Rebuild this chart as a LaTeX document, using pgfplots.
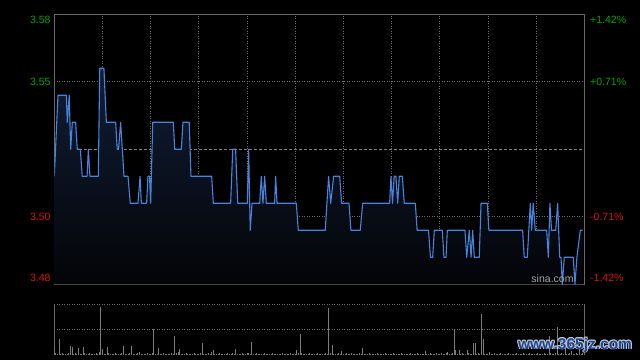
\documentclass[border=0pt]{standalone}
\usepackage{fontspec}
\setmainfont{Liberation Sans}
\usepackage{pgfplots}
\pgfplotsset{compat=1.18}
\usepackage{pgfplotstable}

\definecolor{gridc}{RGB}{115,115,115}
\definecolor{framec}{RGB}{105,105,105}
\definecolor{linec}{RGB}{72,132,222}
\definecolor{upc}{RGB}{0,165,0}
\definecolor{dnc}{RGB}{215,20,20}
\definecolor{volc}{RGB}{125,125,125}
\definecolor{wmblue}{RGB}{28,70,145}
\definecolor{wmedge}{RGB}{195,200,210}
\definecolor{filltop}{RGB}{17,30,54}
\definecolor{fillbot}{RGB}{3,4,7}
\definecolor{sinac}{RGB}{165,165,165}

\pgfplotstableread{
t p
0 3.52
2.3 3.55
7.5 3.55
8.1 3.54
9.3 3.55
10.2 3.53
11.2 3.54
13.3 3.54
14.3 3.53
16.2 3.53
17.4 3.52
20.4 3.52
21.2 3.53
22.2 3.52
27.4 3.52
28.3 3.56
30.9 3.56
32.4 3.54
38.2 3.54
39.2 3.53
40 3.53
41.3 3.54
43.4 3.52
45.9 3.52
47.3 3.51
52.1 3.51
53.4 3.52
54.2 3.51
57.5 3.51
58.3 3.52
59.3 3.52
60 3.51
61.3 3.54
74.1 3.54
75 3.53
79.1 3.53
80.1 3.54
84 3.54
85.1 3.52
98 3.52
99 3.51
109.8 3.51
111.1 3.53
112.9 3.53
114.2 3.51
120.2 3.51
121 3.53
122 3.50
123.1 3.51
127.9 3.51
128.9 3.52
129.9 3.51
131 3.52
132 3.51
137.2 3.51
137.8 3.52
138.7 3.51
150.7 3.51
151.9 3.50
168.7 3.50
170.8 3.52
172.1 3.51
173.9 3.52
177.7 3.52
178.9 3.51
183.5 3.51
184.7 3.50
190.5 3.50
192 3.51
208.8 3.51
209.6 3.52
210.6 3.51
211.6 3.52
212.7 3.52
213.8 3.51
214.8 3.52
216.7 3.52
217.9 3.51
224.8 3.51
225.9 3.50
233 3.50
234.2 3.49
235.6 3.49
236.6 3.50
241.6 3.50
242.6 3.49
243.9 3.49
244.7 3.50
255.7 3.50
256.8 3.49
258.4 3.50
259.5 3.49
260.5 3.50
261.5 3.49
264.6 3.49
265.7 3.51
269.6 3.51
270.6 3.50
291.6 3.50
292.6 3.49
294.5 3.49
296.4 3.51
297.2 3.50
298.2 3.51
299.5 3.50
306.6 3.50
307.6 3.49
308.6 3.51
309.6 3.50
312.2 3.50
313.4 3.51
314.7 3.49
315.5 3.49
316.3 3.48
317.5 3.49
323.1 3.49
324.2 3.48
325.4 3.49
327.5 3.50
329 3.50
}\price

\pgfplotstableread{
t v
0 16
3 32
10 18
11 16
15 14
18 16
28 6
29 95
30 11
33 16
43 18
48 18
53 6
62 51
65 14
75 37
77 6
78 11
92 24
98 6
99 10
113 11
121 4
123 26
151 10
153 41
154 4
171 92
173 20
179 8
192 14
231 8
245 6
249 49
250 10
252 10
257 10
261 24
262 24
266 81
267 32
271 6
308 38
313 56
}\vol

\begin{document}
\begin{tikzpicture}
\fill[black] (0,0) rectangle (640pt,360pt);
\begin{axis}[
  at={(54.3pt,75.7pt)}, anchor=south west,
  scale only axis, width=530pt, height=270pt,
  xmin=0, xmax=330, ymin=3.48, ymax=3.58,
  xtick={30,60,...,300}, ytick={3.505,3.555},
  xticklabels={}, yticklabels={},
  major tick length=0pt,
  grid=major,
  major grid style={gridc, line width=0.8pt, dash pattern=on 1pt off 1.5pt},
  extra y ticks={3.53}, extra y tick labels={},
  extra y tick style={grid=major, major grid style={gridc!90!white, line width=0.8pt, dash pattern=on 3pt off 2pt}},
  axis line style={framec, line width=1pt},
  clip mode=individual,
  font=\fontsize{10.5}{12}\selectfont,
]
\addplot[draw=none, top color=filltop, bottom color=fillbot] table[x=t,y=p]{\price} -- (axis cs:329,3.48) -- (axis cs:0,3.48) -- cycle;
\addplot[linec, line width=1.1pt, line join=round] table[x=t,y=p]{\price};
\node[anchor=east, xshift=-0.3pt, text=upc] at (axis cs:0,3.5779) {3.58};
\node[anchor=east, xshift=-0.3pt, text=upc] at (axis cs:0,3.555) {3.55};
\node[anchor=east, xshift=-0.3pt, text=dnc] at (axis cs:0,3.505) {3.50};
\node[anchor=east, xshift=-0.3pt, text=dnc] at (axis cs:0,3.4822) {3.48};
\node[anchor=west, xshift=2.4pt, text=upc] at (axis cs:330,3.5779) {+1.42\%};
\node[anchor=west, xshift=2.4pt, text=upc] at (axis cs:330,3.555) {+0.71\%};
\node[anchor=west, xshift=2.4pt, text=dnc] at (axis cs:330,3.505) {-0.71\%};
\node[anchor=west, xshift=2.4pt, text=dnc] at (axis cs:330,3.4822) {-1.42\%};
\node[text=sinac] at (axis cs:310.2,3.4819) {sina.com};
\end{axis}
\begin{axis}[
  at={(54.3pt,5pt)}, anchor=south west,
  scale only axis, width=530pt, height=50.7pt,
  xmin=0, xmax=330, ymin=0, ymax=100,
  xtick=\empty, ytick={50,100}, yticklabels={},
  major tick length=0pt,
  ymajorgrids,
  major grid style={gridc, line width=0.8pt, dash pattern=on 1pt off 1.5pt},
  extra x ticks={0,330}, extra x tick labels={},
  extra x tick style={grid=major, major grid style={framec, solid, line width=1pt}},
  axis line style={draw=none},
]
\addplot[ycomb, volc, line width=0.9pt] coordinates {
(1,3)(2,2)(4,2)(5,3)(6,2)(7,2)(8,2)(9,3)
(12,2)(13,3)(14,2)(16,2)(17,2)(19,3)
(20,2)(21,2)(22,3)(23,2)(24,2)(25,2)(26,3)(27,2)
(31,2)(32,2)(34,3)(35,2)(36,2)(37,2)(38,3)(39,2)
(40,2)(41,2)(42,3)(44,2)(45,2)(46,2)(47,3)(49,2)
(50,2)(51,2)(52,3)(54,2)(55,2)(56,2)(57,2)(58,3)(59,2)
(60,2)(61,3)(63,2)(64,2)(66,2)(67,2)(68,3)(69,2)
(70,2)(71,2)(72,2)(73,3)(74,2)(76,3)(79,2)
(80,2)(81,2)(82,3)(83,2)(84,2)(85,2)(86,2)(87,3)(88,2)(89,2)
(90,2)(91,3)(93,2)(94,2)(95,2)(96,3)(97,2)
(100,2)(101,2)(102,2)(103,3)(104,2)(105,2)(106,2)(107,2)(108,3)(109,2)
(110,2)(111,3)(112,2)(114,2)(115,2)(116,2)(117,3)(118,2)(119,2)
(120,3)(122,2)(124,2)(125,2)(126,3)(127,2)(128,2)(129,2)
(130,2)(131,3)(132,2)(133,2)(134,2)(135,2)(136,3)(137,2)(138,2)(139,2)
(140,2)(141,2)(142,3)(143,2)(144,2)(145,2)(146,2)(147,3)(148,2)(149,2)
(150,2)(152,3)(155,2)(156,2)(157,2)(158,2)(159,3)
(160,2)(161,2)(162,2)(163,2)(164,3)(165,2)(166,2)(167,2)(168,2)(169,3)
(170,2)(172,3)(174,2)(175,2)(176,2)(177,3)(178,2)
(180,2)(181,2)(182,3)(183,2)(184,2)(185,3)(186,2)(187,2)(188,2)(189,2)
(190,3)(191,2)(193,2)(194,2)(195,2)(196,3)(197,2)(198,2)(199,2)
(200,2)(201,3)(202,2)(203,2)(204,2)(205,2)(206,3)(207,2)(208,2)(209,2)
(210,2)(211,3)(212,2)(213,2)(214,2)(215,2)(216,3)(217,2)(218,2)(219,2)
(220,2)(221,2)(222,3)(223,2)(224,2)(225,2)(226,3)(227,2)(228,2)(229,2)
(230,2)(232,2)(233,2)(234,3)(235,2)(236,2)(237,2)(238,3)(239,2)
(240,2)(241,3)(242,2)(243,2)(244,3)(246,2)(247,2)(248,3)
(251,2)(253,2)(254,3)(255,2)(256,2)(258,3)(259,2)
(260,2)(263,2)(264,3)(265,2)(268,2)(269,2)
(270,2)(272,2)(273,2)(274,3)(275,2)(276,2)(277,2)(278,3)(279,2)
(280,2)(281,2)(282,2)(283,3)(284,2)(285,2)(286,2)(287,2)(288,3)(289,2)
(290,2)(291,2)(292,3)(293,2)(294,2)(295,2)(296,3)(297,2)(298,2)(299,2)
(300,2)(301,3)(302,2)(303,2)(304,2)(305,3)(306,2)(307,2)(309,3)
(310,2)(311,2)(312,3)(314,2)(315,2)(316,3)(317,2)(318,12)(319,2)
(320,2)(321,3)(322,8)(323,2)(324,2)(325,3)(326,2)(327,15)(328,2)(329,3)(330,2)
};
\addplot[ycomb, volc, line width=0.9pt] table[x=t,y=v]{\vol};
\end{axis}
\begin{scope}[font=\fontsize{15.5}{17}\bfseries]
\foreach \dx/\dy in {-0.9/0,0.9/0,0/-0.9,0/0.9,-0.7/-0.7,0.7/0.7,-0.7/0.7,0.7/-0.7}{
  \node[text=wmedge] at ([xshift=\dx pt,yshift=\dy pt]575pt,15pt) {www.365jz.com};
}
\node[text=wmblue] at (575pt,15pt) {www.365jz.com};
\end{scope}
\end{tikzpicture}
\end{document}
